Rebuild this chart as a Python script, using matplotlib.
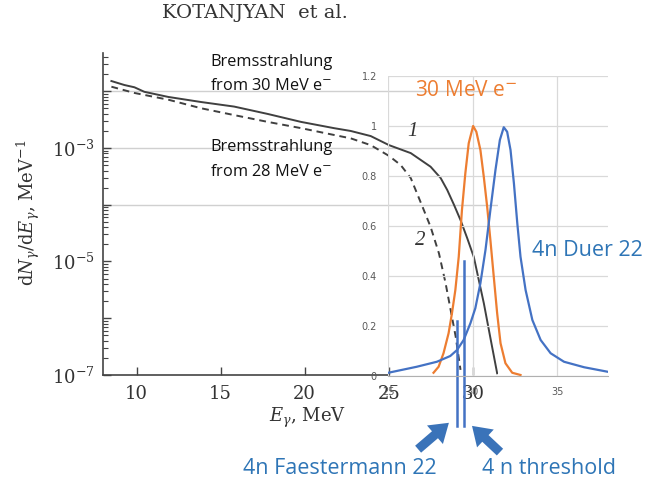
import numpy as np
import matplotlib
matplotlib.use("Agg")
import matplotlib.pyplot as plt
from matplotlib.patches import FancyArrowPatch
from matplotlib.ticker import FixedLocator, NullFormatter, FixedFormatter

# Bremsstrahlung spectra (log10 of dN/dE)
E_30 = [8.5, 9.27, 9.87, 10.46, 11.88, 13.84, 15.8, 17.8, 19.78, 21.74, 22.74, 23.93, 25.02, 26.31,
        27.49, 28.09, 28.48, 28.88, 29.27, 29.67, 30.06, 30.36, 30.66, 31.05, 31.45]
LOG_30 = [-1.82, -1.89, -1.93, -2.01, -2.10, -2.19, -2.27, -2.40, -2.54, -2.65, -2.70, -2.79, -2.95, -3.09,
          -3.33, -3.53, -3.74, -4.00, -4.27, -4.59, -4.92, -5.33, -5.74, -6.35, -6.97]
E_28 = [8.5, 9.87, 11.9, 13.84, 15.8, 17.8, 19.78, 21.74, 22.74, 23.93, 25.02, 25.71, 26.31, 27.0,
        27.49, 27.99, 28.38, 28.68, 28.98, 29.27]
LOG_28 = [-1.92, -2.03, -2.15, -2.30, -2.42, -2.54, -2.65, -2.77, -2.83, -2.95, -3.14, -3.30, -3.53, -4.03,
          -4.39, -4.86, -5.38, -5.85, -6.32, -6.91]

# inset: normalised spectra
E_ORANGE = [27.69, 27.99, 28.28, 28.58, 28.78, 28.98, 29.18, 29.37, 29.57, 29.77, 30.03, 30.22, 30.46,
            30.66, 30.86, 31.05, 31.25, 31.45, 31.65, 31.94, 32.34, 32.83]
Y_ORANGE = [0.013, 0.037, 0.091, 0.171, 0.251, 0.344, 0.477, 0.664, 0.811, 0.931, 1.0, 0.977, 0.904,
            0.797, 0.677, 0.544, 0.397, 0.251, 0.131, 0.051, 0.013, 0.004]
E_DUER = [25.02, 26.70, 27.89, 28.68, 29.08, 29.47, 29.87, 30.16, 30.46, 30.76, 31.05, 31.35, 31.61,
          31.84, 32.04, 32.24, 32.44, 32.64, 32.83, 33.13, 33.53, 34.02, 34.61, 35.40, 36.59, 37.98]
Y_DUER = [0.013, 0.037, 0.057, 0.08, 0.104, 0.144, 0.211, 0.271, 0.371, 0.504, 0.664, 0.824, 0.944,
          0.995, 0.977, 0.904, 0.771, 0.611, 0.477, 0.344, 0.224, 0.144, 0.091, 0.057, 0.035, 0.017]

# vertical markers (energy, top, bottom in inset units)
MARK_E = [29.07, 29.5]
MARK_TOP = [0.22, 0.46]
MARK_BOTTOM = -0.2

MAIN_XTICKS = [10, 15, 20, 25, 30]
INSET_XTICKS = [25, 30, 35]
INSET_YTICKS = [0, 0.2, 0.4, 0.6, 0.8, 1.0, 1.2]
INSET_YLABELS = ["0", "0.2", "0.4", "0.6", "0.8", "1", "1.2"]

W, H = 646, 486
plt.rcParams['mathtext.fontset'] = 'dejavuserif'

fig = plt.figure(figsize=(W / 100, H / 100), dpi=100)


def px(x, y):
    return x / W, 1 - y / H


# main axes
ax = fig.add_axes([103 / W, 1 - 375 / H, (498 - 103) / W, (375 - 53) / H])
ax.semilogy(E_30, 10 ** np.array(LOG_30), color="#404040", lw=1.4)
ax.semilogy(E_28, 10 ** np.array(LOG_28), color="#404040", lw=1.4, ls=(0, (3.5, 2.5)))
ax.set_xlim(8, 31.5)
ax.set_ylim(1e-7, 10 ** -1.326)
for s in ["top", "right"]:
    ax.spines[s].set_visible(False)
for s in ["left", "bottom"]:
    ax.spines[s].set_color("#444444")
    ax.spines[s].set_linewidth(1.2)
ax.spines["bottom"].set_bounds(8, 25)
ax.set_xticks(MAIN_XTICKS)
ax.set_xticklabels([str(t) for t in MAIN_XTICKS], family="DejaVu Serif", fontsize=13, color="#333333")
decades = [1e-7, 1e-6, 1e-5, 1e-4, 1e-3, 1e-2]
ax.yaxis.set_major_locator(FixedLocator(decades))
ax.yaxis.set_major_formatter(FixedFormatter([r"$10^{-7}$", "", r"$10^{-5}$", "", r"$10^{-3}$", ""]))
minors = [m * d for d in decades for m in range(2, 10)]
ax.yaxis.set_minor_locator(FixedLocator(minors))
ax.yaxis.set_minor_formatter(NullFormatter())
ax.tick_params(axis="both", which="major", direction="in", length=6, width=1, color="#444444", labelsize=13,
               labelcolor="#333333")
ax.tick_params(axis="x", pad=7)
ax.tick_params(axis="y", which="major", pad=6)
ax.tick_params(axis="y", which="minor", direction="in", length=3.5, width=0.8, color="#444444")
for d in [1e-2, 1e-3, 1e-4]:
    ax.axhline(d, color="#d0d0d0", lw=1, zorder=0)
ax.set_facecolor("none")

fig.text(*px(28, 213), r"$\mathrm{d}N_\gamma/\mathrm{d}E_\gamma$, MeV$^{-1}$", rotation=90,
         ha="center", va="center", family="DejaVu Serif", fontsize=13, color="#333333")
fig.text(*px(308, 418), r"$E_\gamma$, MeV", ha="center", va="center", family="DejaVu Serif",
         fontsize=13, color="#333333")

# inset axes
ins = fig.add_axes([388 / W, 1 - 376 / H, (608 - 388) / W, (376 - 76) / H])
ins.set_facecolor("none")
ins.plot(E_ORANGE, Y_ORANGE, color="#ED7D31", lw=1.6)
ins.plot(E_DUER, Y_DUER, color="#4472C4", lw=1.6)
for e, top in zip(MARK_E, MARK_TOP):
    ins.plot([e, e], [MARK_BOTTOM, top], color="#4472C4", lw=1.8, clip_on=False)
ins.set_xlim(25, 38)
ins.set_ylim(0, 1.2)
for s in ["top", "right", "left"]:
    ins.spines[s].set_visible(False)
ins.spines["bottom"].set_color("#b0b0b0")
ins.set_xticks(INSET_XTICKS)
ins.set_yticks(INSET_YTICKS)
ins.set_yticklabels(INSET_YLABELS)
ins.tick_params(length=0, labelsize=7, labelcolor="#595959", pad=8)
ins.grid(True, color="#d9d9d9", lw=0.9)
ins.set_axisbelow(True)

# text annotations
brems_kw = dict(fontsize=11.8, family="Open Sans", va="center", color="#111111")
fig.text(*px(210, 62), "Bremsstrahlung", **brems_kw)
fig.text(*px(210, 86), r"from 30 MeV e$^{-}$", **brems_kw)
fig.text(*px(210, 147), "Bremsstrahlung", **brems_kw)
fig.text(*px(210, 172), r"from 28 MeV e$^{-}$", **brems_kw)
fig.text(*px(255, 13), "KOTANJYAN  et al.", fontsize=14, family="DejaVu Serif", ha="center",
         va="center", color="#333333")
fig.text(*px(412, 132), "1", fontsize=15, family="Liberation Serif", style="italic", ha="center",
         va="center", color="#333333")
fig.text(*px(420, 240), "2", fontsize=15, family="Liberation Serif", style="italic", ha="center",
         va="center", color="#333333")
blue_kw = dict(fontsize=15.5, family="Open Sans", va="center", color="#2E75B6")
fig.text(*px(415, 90), r"30 MeV e$^{-}$", fontsize=15, family="Open Sans", va="center", color="#ED7D31")
fig.text(*px(532, 250), "4n Duer 22", **blue_kw)
fig.text(*px(243, 468), "4n Faestermann 22", **blue_kw)
fig.text(*px(482, 468), "4 n threshold", **blue_kw)

# arrows
for tail, tip in [((416, 451), (451, 421)), ((502, 454), (470, 424))]:
    fig.add_artist(FancyArrowPatch(
        px(*tail), px(*tip), transform=fig.transFigure,
        arrowstyle="simple,head_width=1.6,head_length=1.2,tail_width=0.6",
        mutation_scale=11, color="#3A73B9", lw=0))

fig.savefig("out.png", dpi=100)
